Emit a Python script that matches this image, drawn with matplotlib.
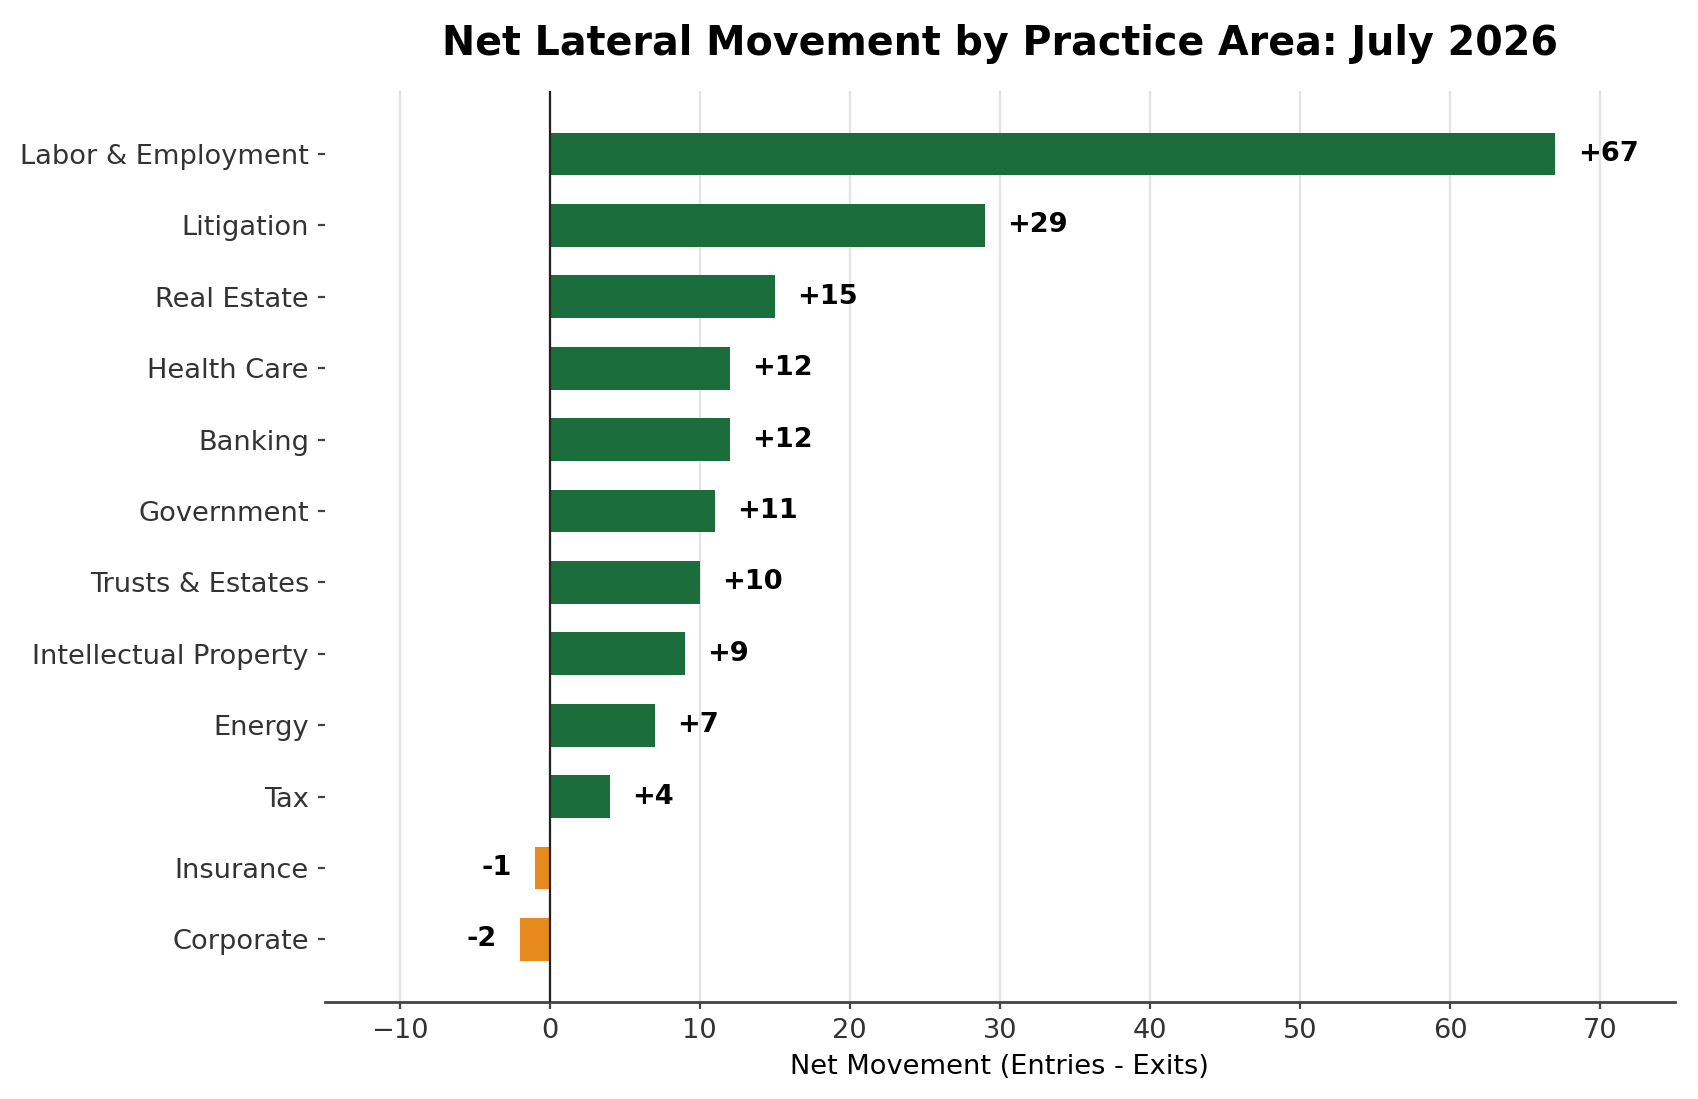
import matplotlib.pyplot as plt

areas = ['Labor & Employment', 'Litigation', 'Real Estate', 'Health Care', 'Banking',
         'Government', 'Trusts & Estates', 'Intellectual Property', 'Energy', 'Tax',
         'Insurance', 'Corporate']
net = [67, 29, 15, 12, 12, 11, 10, 9, 7, 4, -1, -2]

green = '#1b6e3c'
orange = '#e8891d'

fig, ax = plt.subplots(figsize=(8.495, 5.495), dpi=200)
fig.subplots_adjust(left=0.191, right=0.986, top=0.917, bottom=0.088)

ypos = list(range(len(areas)))[::-1]
colors = [green if v >= 0 else orange for v in net]
ax.barh(ypos, net, height=0.6, color=colors, zorder=3)

for y, v in zip(ypos, net):
    if v >= 0:
        ax.text(v + 1.5, y, f'+{v}', va='center', ha='left', fontsize=9.8, fontweight='bold', zorder=4)
    else:
        ax.text(v - 1.5, y, f'{v}', va='center', ha='right', fontsize=9.8, fontweight='bold', zorder=4)

ax.axvline(0, color='#222222', lw=0.8, zorder=4)
ax.set_yticks(ypos)
ax.set_yticklabels(areas)
ax.set_xlim(-15, 75)
ax.set_xticks(range(-10, 71, 10))

ax.grid(axis='x', color='#e3e3e3', lw=0.8, zorder=0)
ax.set_axisbelow(True)
for s in ['top', 'right', 'left']:
    ax.spines[s].set_visible(False)
ax.spines['bottom'].set_color('#444444')
ax.spines['bottom'].set_linewidth(1.0)
ax.tick_params(axis='both', labelsize=9.8, colors='#444444', labelcolor='#333333',
               length=2.5, width=0.8, pad=3.1)

ax.set_xlabel('Net Movement (Entries - Exits)', fontsize=9.8, labelpad=3.5)
ax.set_title('Net Lateral Movement by Practice Area: July 2026', fontsize=14.25,
             fontweight='bold', pad=13)

fig.savefig('out.png', dpi=200)
